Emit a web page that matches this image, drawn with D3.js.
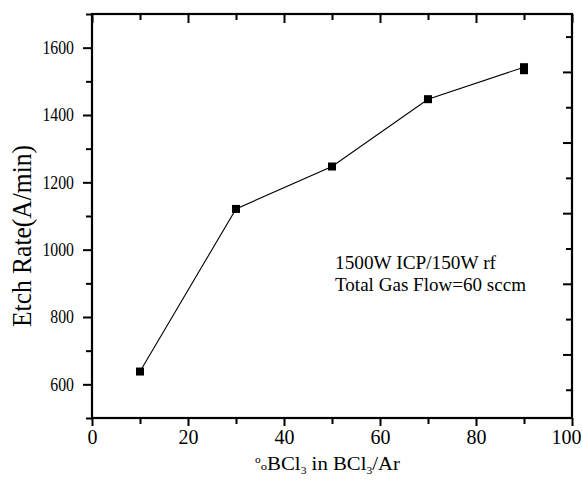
<!DOCTYPE html>
<html>
<head>
<meta charset="utf-8">
<script src="https://cdn.jsdelivr.net/npm/d3@7/dist/d3.min.js"></script>
<style>
  body { margin: 0; background: #fff; }
  svg { display: block; font-family: "Liberation Serif", "Times New Roman", serif; }
</style>
</head>
<body>
<svg id="chart" width="582" height="490"></svg>
<script>
// ---- data ----
const bcl3Percent = [10, 30, 50, 70, 90, 90];
const etchRate    = [638, 1121, 1247, 1447, 1542, 1533];
const xTickValues = [0, 20, 40, 60, 80, 100];
const xMinorTicks = [10, 30, 50, 70, 90];
const yTickValues = [600, 800, 1000, 1200, 1400, 1600];
const yMinorTicks = [500, 700, 900, 1100, 1300, 1500, 1700];
const xDomain = [0, 100];
const yDomain = [500, 1700];
// mirrored right axis (independent tick spacing as in the original plot)
const rightDomain = [10, 582];
const rightMajor = [100, 200, 300, 400, 500];
const rightMinor = [50, 150, 250, 350, 450, 550];
const annotationLines = ["1500W ICP/150W rf", "Total Gas Flow=60 sccm"];
const yTitle = "Etch Rate(A/min)";

// ---- layout ----
const L = 92, R = 572, T = 14, B = 418;
const svg = d3.select("#chart");
const x = d3.scaleLinear().domain(xDomain).range([L, R]);
const y = d3.scaleLinear().domain(yDomain).range([B, T]);
const yr = d3.scaleLinear().domain(rightDomain).range([B, T]);

function styleAxis(g) {
  g.select(".domain").remove();
  g.selectAll(".tick line").attr("stroke", "#000").attr("stroke-width", 2);
}

// bottom axis (outward)
const gB = svg.append("g").attr("transform", `translate(0,${B})`);
gB.call(d3.axisBottom(x).tickValues(xTickValues).tickSize(8).tickPadding(4).tickFormat(d3.format("d")));
styleAxis(gB);
gB.selectAll(".tick text").attr("font-size", 20).attr("fill", "#000")
  .attr("font-family", "Liberation Serif").attr("dy", null).attr("y", 26);
// keep the last label inside the picture
gB.selectAll(".tick text").filter(d => d === xDomain[1])
  .attr("text-anchor", "end").attr("x", 581 - R);
const gBm = svg.append("g").attr("transform", `translate(0,${B})`);
gBm.call(d3.axisBottom(x).tickValues(xMinorTicks).tickSize(6).tickFormat(""));
styleAxis(gBm);

// top axis (inward)
const gT = svg.append("g").attr("transform", `translate(0,${T})`);
gT.call(d3.axisTop(x).tickValues(xTickValues).tickSize(-9).tickFormat(""));
styleAxis(gT);
const gTm = svg.append("g").attr("transform", `translate(0,${T})`);
gTm.call(d3.axisTop(x).tickValues(xMinorTicks).tickSize(-6).tickFormat(""));
styleAxis(gTm);

// left axis (outward)
const gL = svg.append("g").attr("transform", `translate(${L},0)`);
gL.call(d3.axisLeft(y).tickValues(yTickValues).tickSize(9).tickPadding(9).tickFormat(d3.format("d")));
styleAxis(gL);
gL.selectAll(".tick text").attr("font-size", 18).attr("fill", "#000")
  .attr("font-family", "Liberation Serif")
  .attr("textLength", d => String(d).length * 7.9)
  .attr("lengthAdjust", "spacingAndGlyphs");
const gLm = svg.append("g").attr("transform", `translate(${L},0)`);
gLm.call(d3.axisLeft(y).tickValues(yMinorTicks).tickSize(6).tickFormat(""));
styleAxis(gLm);

// right axis (inward)
const gR = svg.append("g").attr("transform", `translate(${R},0)`);
gR.call(d3.axisRight(yr).tickValues(rightMajor).tickSize(-9).tickFormat(""));
styleAxis(gR);
const gRm = svg.append("g").attr("transform", `translate(${R},0)`);
gRm.call(d3.axisRight(yr).tickValues(rightMinor).tickSize(-6).tickFormat(""));
styleAxis(gRm);

// frame
svg.append("rect").attr("x", L).attr("y", T).attr("width", R - L).attr("height", B - T)
  .attr("fill", "none").attr("stroke", "#000").attr("stroke-width", 2.2);

// data line
const pts = bcl3Percent.map((v, i) => [v, etchRate[i]]);
svg.append("path").datum(pts)
  .attr("fill", "none").attr("stroke", "#000").attr("stroke-width", 1.1)
  .attr("d", d3.line().x(d => x(d[0])).y(d => y(d[1])));

// markers
const ms = 8;
svg.append("g").selectAll("rect").data(pts).join("rect")
  .attr("x", d => x(d[0]) - ms / 2).attr("y", d => y(d[1]) - ms / 2)
  .attr("width", ms).attr("height", ms).attr("fill", "#000");

// annotation
const ann = svg.append("g").attr("font-size", 18).attr("fill", "#000");
ann.append("text").attr("x", 335).attr("y", 269).attr("textLength", 161)
  .attr("lengthAdjust", "spacingAndGlyphs").text(annotationLines[0]);
ann.append("text").attr("x", 335).attr("y", 290.5).attr("textLength", 191)
  .attr("lengthAdjust", "spacingAndGlyphs").text(annotationLines[1]);

// y title
svg.append("text").attr("transform", "translate(31,236) rotate(-90)")
  .attr("text-anchor", "middle").attr("font-size", 28)
  .attr("textLength", 182).attr("lengthAdjust", "spacingAndGlyphs")
  .text(yTitle);

// x title
const xt = svg.append("text").attr("x", 255).attr("y", 470).attr("font-size", 18)
  .attr("textLength", 145).attr("lengthAdjust", "spacingAndGlyphs");
xt.append("tspan").attr("font-size", 10).attr("dy", -7).text("o");
xt.append("tspan").attr("font-size", 11).attr("dy", 7).text("o");
xt.append("tspan").text("BCl");
xt.append("tspan").attr("font-size", 10).attr("dy", 4).text("3");
xt.append("tspan").attr("dy", -4).text(" in BCl");
xt.append("tspan").attr("font-size", 10).attr("dy", 4).text("3");
xt.append("tspan").attr("dy", -4).text("/Ar");
</script>
</body>
</html>
